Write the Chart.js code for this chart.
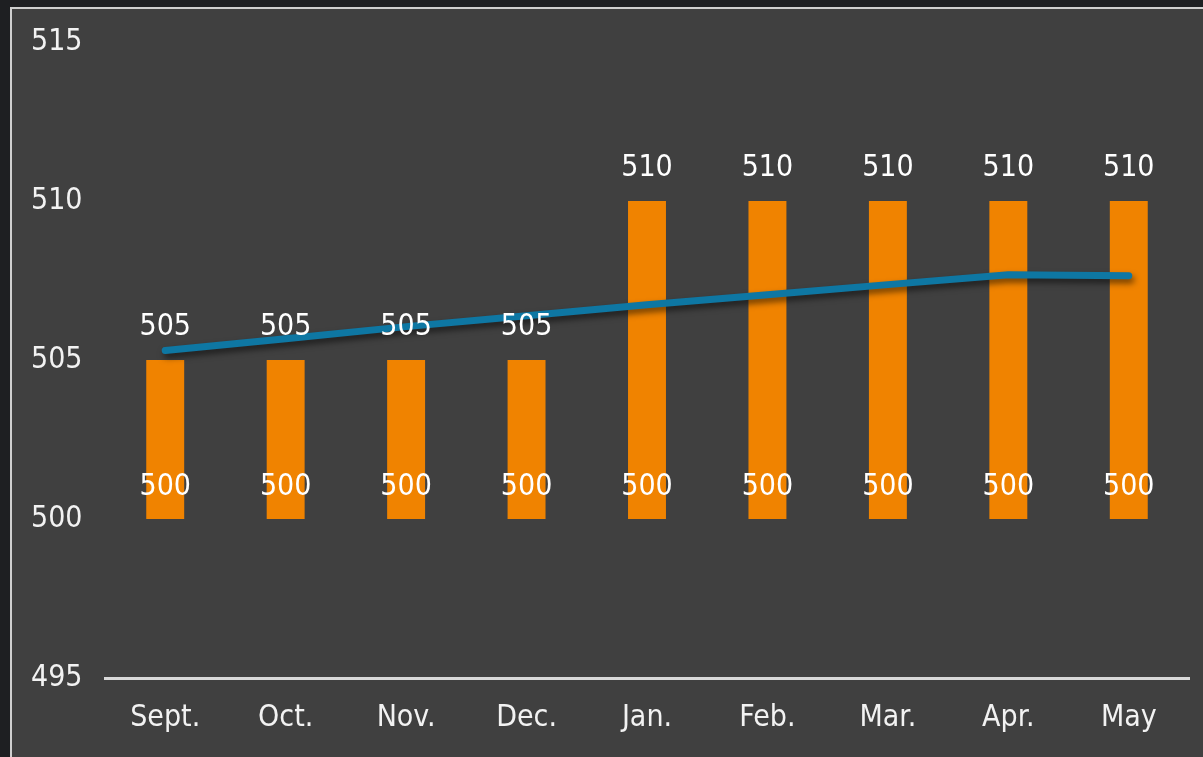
<!DOCTYPE html>
<html>
<head>
<meta charset="utf-8">
<script src="https://cdn.jsdelivr.net/npm/chart.js@4/dist/chart.umd.min.js"></script>
<style>
  html, body { margin: 0; padding: 0; background: #1e1f22; overflow: hidden; }
  #panel {
    position: absolute; left: 10px; top: 7px; width: 1193px; height: 750px;
    box-sizing: border-box; border-top: 2px solid #cfcfcf; border-left: 2px solid #cfcfcf;
    background: #404040;
  }
  #chart { display: block; }
</style>
</head>
<body>
<div id="panel"><canvas id="chart" width="1191" height="748"></canvas></div>
<script>
/* Months and values */
let months = ['Sept.', 'Oct.', 'Nov.', 'Dec.', 'Jan.', 'Feb.', 'Mar.', 'Apr.', 'May']
let lowValues = [500, 500, 500, 500, 500, 500, 500, 500, 500]
let highValues = [505, 505, 505, 505, 510, 510, 510, 510, 510]
let trendValues = [505.3, 505.67, 506.05, 506.39, 506.74, 507.05, 507.37, 507.68, 507.65]
let yTicks = [495, 500, 505, 510, 515]

let fontFamily = '"DejaVu Sans Condensed", "DejaVu Sans", sans-serif'

// floating bars: each bar goes from low to high
let barData = months.map((m, i) => [lowValues[i], highValues[i]])

/* Shadow under the trend line */
let lineShadow = {
    id: 'lineShadow',
    beforeDatasetDraw(chart, args) {
        if (args.meta.type !== 'line') return
        let ctx = chart.ctx
        ctx.save()
        ctx.shadowColor = 'rgba(0,0,0,0.55)'
        ctx.shadowBlur = 6
        ctx.shadowOffsetX = 2
        ctx.shadowOffsetY = 4
    },
    afterDatasetDraw(chart, args) {
        if (args.meta.type !== 'line') return
        chart.ctx.restore()
    }
}

/* Value labels on bar tops and bases */
let barLabels = {
    id: 'barLabels',
    afterDatasetsDraw(chart) {
        let ctx = chart.ctx
        let meta = chart.getDatasetMeta(1)
        ctx.save()
        ctx.fillStyle = '#ffffff'
        ctx.font = '30px ' + fontFamily
        ctx.textAlign = 'center'
        ctx.textBaseline = 'middle'
        meta.data.forEach((bar, i) => {
            ctx.fillText(String(highValues[i]), bar.x, bar.y - 33)
            ctx.fillText(String(lowValues[i]), bar.x, bar.base - 32)
        })
        ctx.restore()
    }
}

let ctx = document.querySelector('#chart').getContext('2d')

let chart = new Chart(ctx, {
    data: {
        labels: months,
        datasets: [
            {
                type: 'line',
                data: trendValues,
                borderColor: '#0e77a3',
                borderWidth: 7,
                borderCapStyle: 'round',
                borderJoinStyle: 'round',
                pointRadius: 0,
                tension: 0,
                order: 0
            },
            {
                type: 'bar',
                data: barData,
                backgroundColor: '#f08300',
                barPercentage: 0.315,
                categoryPercentage: 1,
                borderSkipped: false,
                order: 1
            }
        ]
    },
    options: {
        responsive: false,
        animation: false,
        layout: { padding: { top: 0, right: 14, left: 0, bottom: 0 } },
        plugins: {
            legend: { display: false },
            tooltip: { enabled: false }
        },
        scales: {
            x: {
                offset: true,
                grid: { display: false, drawTicks: false },
                border: { display: true, color: '#d9d9d9', width: 3 },
                ticks: {
                    color: '#f2f2f2',
                    font: { size: 30, family: fontFamily },
                    padding: 22,
                    maxRotation: 0
                },
                afterFit(scale) { scale.height = 79 }
            },
            y: {
                min: 495,
                max: 515,
                afterBuildTicks(scale) { scale.ticks = yTicks.map(v => ({ value: v })) },
                grid: { display: false, drawTicks: false },
                border: { display: false },
                ticks: {
                    color: '#f2f2f2',
                    // small lineHeight keeps the top gap at label half-height + padding = 33
                    font: { size: 30, family: fontFamily, lineHeight: 0.7 },
                    padding: 22.5
                },
                afterFit(scale) { scale.width = 93 }
            }
        }
    },
    plugins: [lineShadow, barLabels]
})
</script>
</body>
</html>
